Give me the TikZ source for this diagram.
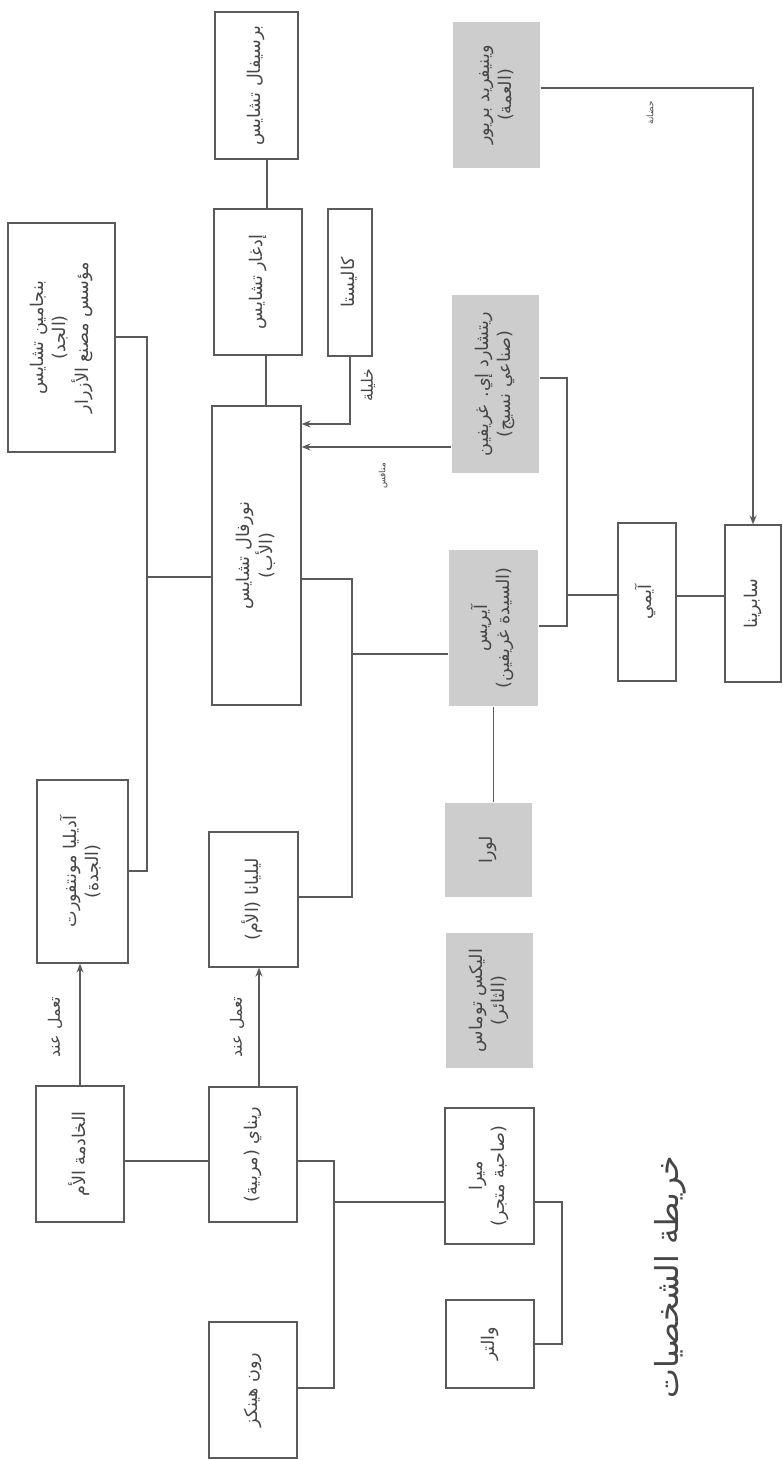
\documentclass[tikz,border=0pt]{standalone}
\usepackage{graphicx}
\usepackage{fontspec}
\newfontfamily\arabicfont[Script=Arabic]{DejaVu Sans}
\TeXXeTstate=1
\usepackage{tikz}
\usetikzlibrary{arrows.meta,positioning,calc}
\definecolor{linegray}{RGB}{90,90,90}
\definecolor{textgray}{RGB}{70,70,70}
\definecolor{boxgray}{RGB}{205,205,205}
\newcommand{\ar}[1]{\beginR#1\endR}
\newcommand{\vtext}[1]{\rotatebox{90}{\begin{tabular}{@{}c@{}}#1\end{tabular}}}
\tikzset{
  person/.style={draw=linegray, line width=0.8pt, text=textgray, inner sep=0pt, font=\arabicfont\fontsize{10}{12.5}\selectfont},
  shaded/.style={person, draw=none, fill=boxgray},
  link/.style={draw=linegray, line width=0.8pt},
  tie/.style={link, -{Stealth[length=5pt,width=4pt]}},
  tag/.style={text=textgray, inner sep=1pt, rotate=90, font=\arabicfont\fontsize{9}{11}\selectfont},
  tinytag/.style={tag, font=\arabicfont\fontsize{5}{6}\selectfont},
}

\begin{document}
\begin{tikzpicture}[x=0.02cm, y=-0.02cm]
  \useasboundingbox[fill=white] (0,0) rectangle (782,1460);

  %--- Chase family ---
  \node[person, minimum width=1.66cm, minimum height=2.94cm] (percival) at (256.5,85.5) {\vtext{\ar{برسيفال تشايس}}};
  \node[person, minimum width=1.76cm, minimum height=2.92cm] (edgar) at (258,282) {\vtext{\ar{إدغار تشايس}}};
  \node[person, minimum width=0.88cm, minimum height=2.94cm] (callista) at (350,282.5) {\vtext{\ar{كاليستا}}};
  \node[person, minimum width=2.14cm, minimum height=4.58cm] (benjamin) at (61.5,337.5) {\vtext{\ar{بنجامين تشايس}\\\ar{(الجد)}\\\ar{مؤسس مصنع الأزرار}}};
  \node[person, minimum width=1.78cm, minimum height=5.98cm] (norval) at (256.5,555.5) {\vtext{\ar{نورفال تشايس}\\\ar{(الأب)}}};
  \node[person, minimum width=1.82cm, minimum height=3.66cm] (adelia) at (82.5,871.5) {\vtext{\ar{آديليا مونتفورت}\\\ar{(الجدة)}}};
  \node[person, minimum width=1.78cm, minimum height=2.70cm] (liliana) at (253.5,899.5) {\vtext{\ar{ليليانا (الأم)}}};

  %--- Griffen side (shaded) ---
  \node[shaded, minimum width=1.74cm, minimum height=2.92cm] (winifred) at (496.5,95) {\vtext{\ar{وينيفريد بريور}\\\ar{(العمة)}}};
  \node[shaded, minimum width=1.74cm, minimum height=3.56cm] (richard) at (495.5,384) {\vtext{\ar{ريتشارد إي. غريفين}\\\ar{(صناعي نسيج)}}};
  \node[shaded, minimum width=1.78cm, minimum height=3.12cm] (iris) at (493.5,628) {\vtext{\ar{آيريس}\\\ar{(السيدة غريفين)}}};
  \node[shaded, minimum width=1.74cm, minimum height=1.88cm] (lora) at (488.5,850) {\vtext{\ar{لورا}}};
  \node[shaded, minimum width=1.74cm, minimum height=2.70cm] (alex) at (489.5,1000.5) {\vtext{\ar{اليكس توماس}\\\ar{(الثائر)}}};

  % next generation
  \node[person, minimum width=1.16cm, minimum height=3.16cm] (aimee) at (647,602) {\vtext{\ar{آيمي}}};
  \node[person, minimum width=1.12cm, minimum height=3.14cm] (sabrina) at (753,603.5) {\vtext{\ar{سابرينا}}};

  %--- Servants and town ---
  \node[person, minimum width=1.76cm, minimum height=2.72cm] (maid) at (80,1154) {\vtext{\ar{الخادمة الأم}}};
  \node[person, minimum width=1.76cm, minimum height=2.70cm] (reenie) at (253,1154.5) {\vtext{\ar{ريناي (مربية)}}};
  \node[person, minimum width=1.76cm, minimum height=2.72cm] (ron) at (253,1390) {\vtext{\ar{رون هينكز}}};
  \node[person, minimum width=1.78cm, minimum height=2.72cm] (myra) at (489.5,1176) {\vtext{\ar{ميرا}\\\ar{(صاحبة متجر)}}};
  \node[person, minimum width=1.76cm, minimum height=1.76cm] (walter) at (490,1344) {\vtext{\ar{والتر}}};

  \node[text=textgray, rotate=90, font=\arabicfont\fontsize{18}{22}\selectfont] (maptitle) at (670,1277) {\ar{خريطة الشخصيات}};

  %--- Connectors ---
  \draw[link] ([xshift=0.21cm]percival.south) -- ([xshift=0.21cm]percival.south |- edgar.north);
  \draw[link] ([xshift=0.16cm]edgar.south) -- ([xshift=0.16cm]edgar.south |- norval.north);
  \draw[tie] (callista.south) |- (norval.east |- 0,424);
  \node[tag] (mistresslbl) at (368,385) {\ar{خليلة}};
  \draw[tie] (richard.west |- 0,447) -- (norval.east |- 0,447);
  \node[tinytag] (rivallbl) at (383,476) {\ar{منافس}};
  \draw[tie] (winifred.east |- 0,88) -| (sabrina.north);
  \node[tinytag] (custodylbl) at (650,113) {\ar{حضانة}};

  % marriages with their children
  \draw[link] (benjamin.east |- 0,337) -| (147,871) -- (adelia.east |- 0,871);
  \coordinate (chasetie) at (147,577);
  \draw[link] (chasetie) -- (norval.west |- chasetie);
  \draw[link] (norval.east |- 0,579) -| (352,897) -- (liliana.east |- 0,897);
  \coordinate (normtie) at (352,654);
  \draw[link] (normtie) -- (iris.west |- normtie);
  \draw[link] (richard.east |- 0,378) -| (567,626) -- (iris.east |- 0,626);
  \coordinate (grifftie) at (567,595);
  \draw[link] (grifftie) -- (aimee.west |- grifftie);
  \draw[link] (aimee.east |- 0,596) -- (sabrina.west |- 0,596);
  \draw[link] (iris.south) -- (iris.south |- lora.north);

  % work and town
  \draw[tie] (maid.north) -- (maid.north |- adelia.south);
  \node[tag] (worklbla) at (55,1027) {\ar{تعمل عند}};
  \draw[tie] ([xshift=0.12cm]reenie.north) -- ([xshift=0.12cm]reenie.north |- liliana.south);
  \node[tag] (worklblb) at (237,1027) {\ar{تعمل عند}};
  \draw[link] (maid.east |- 0,1161) -- (reenie.west |- 0,1161);
  \draw[link] (reenie.east |- 0,1161) -| (334,1388) -- (ron.east |- 0,1388);
  \coordinate (nannytie) at (334,1202);
  \draw[link] (nannytie) -- (myra.west |- nannytie);
  \draw[link] (myra.east |- 0,1202) -| (562,1344) -- (walter.east |- 0,1344);
\end{tikzpicture}
\end{document}
